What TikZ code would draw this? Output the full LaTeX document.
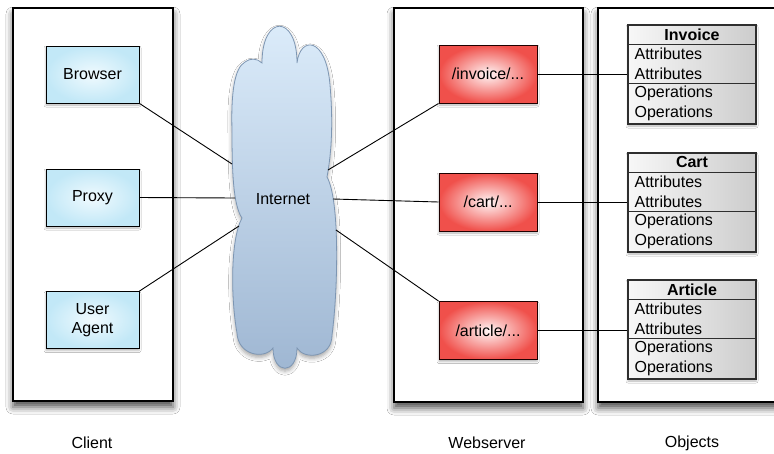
\documentclass[tikz,border=0pt]{standalone}
\usepackage{fontspec}
\setmainfont{Liberation Sans}
\usetikzlibrary{shadows.blur}
\definecolor{blueIn}{HTML}{F0FAFE}
\definecolor{blueOut}{HTML}{C2E8F7}
\definecolor{redIn}{HTML}{FFF6F6}
\definecolor{redOut}{HTML}{F0504B}
\definecolor{cloudTop}{HTML}{DDEDFB}
\definecolor{cloudBot}{HTML}{9EB6D2}
\definecolor{cloudLine}{HTML}{7D96B3}
\definecolor{umlLine}{HTML}{2E2E2E}
\tikzset{
  frame/.style={draw=black, line width=1.3pt, fill=white,
    blur shadow={shadow xshift=0pt, shadow yshift=-6pt, shadow blur radius=7pt, shadow opacity=70}},
  bluebox/.style={draw=black, line width=0.8pt, inner color=blueIn, outer color=blueOut,
    minimum width=93pt, minimum height=57pt, align=center, inner sep=0pt,
    blur shadow={shadow xshift=0pt, shadow yshift=-2pt, shadow blur radius=2pt, shadow opacity=30}},
  redbox/.style={draw=black!80!red!60!black, line width=1pt, inner color=redIn, outer color=redOut,
    minimum width=98pt, minimum height=58pt, inner sep=0pt,
    blur shadow={shadow xshift=0pt, shadow yshift=-2pt, shadow blur radius=2pt, shadow opacity=30}},
  umlbox/.style={draw=umlLine, line width=1.2pt, left color=gray!6, right color=gray!40,
    minimum width=128pt, minimum height=99pt, inner sep=0pt,
    blur shadow={shadow xshift=0pt, shadow yshift=-2pt, shadow blur radius=2pt, shadow opacity=30}},
  umlsep/.style={draw=umlLine, line width=1.2pt},
  umltext/.style={anchor=west, inner sep=0pt},
  conn/.style={draw=black, line width=0.9pt},
  cloudshape/.style={draw=cloudLine, line width=0.8pt, top color=cloudTop, bottom color=cloudBot,
    blur shadow={shadow xshift=0pt, shadow yshift=-3pt, shadow blur radius=4pt, shadow opacity=35}},
  lbl/.style={inner sep=0pt}
}
\newcommand\myumlclass[3]{%
  \node[umlbox] (#1) at (692,#3) {};
  \draw[umlsep] ([yshift=-20pt]#1.north west) -- ([yshift=-20pt]#1.north east);
  \draw[umlsep] ([yshift=-59pt]#1.north west) -- ([yshift=-59pt]#1.north east);
  \node[lbl, font=\fontsize{16}{19}\selectfont\bfseries] (#1-t) at ([yshift=-10pt]#1.north) {#2};
  \node[umltext] (#1-a1) at ([xshift=7pt,yshift=-29.5pt]#1.north west) {Attributes};
  \node[umltext] (#1-a2) at ([xshift=7pt,yshift=-49pt]#1.north west) {Attributes};
  \node[umltext] (#1-o1) at ([xshift=7pt,yshift=-69pt]#1.north west) {Operations};
  \node[umltext] (#1-o2) at ([xshift=7pt,yshift=-88.5pt]#1.north west) {Operations};
}
\begin{document}
\begin{tikzpicture}[x=1pt, y=-1pt, font=\fontsize{16}{19.5}\selectfont]
\clip (0,0) rectangle (774,453);
\fill[white] (0,0) rectangle (774,453);

% frames
\path[frame] (13,8) rectangle (173,401);
\path[frame] (394,8) rectangle (583,402);
\path[frame] (598,8) rectangle (790,402);

% cloud
\path[cloudshape] (232,130)
  .. controls (231,95) and (234,68) .. (245,62)
  .. controls (250,58) and (257,58) .. (262,63)
  .. controls (262,14) and (297,14) .. (297,63)
  .. controls (300,36) and (326,36) .. (330,85)
  .. controls (333,120) and (332,150) .. (327,177)
  .. controls (340,200) and (338,290) .. (332,335)
  .. controls (332,358) and (304,360) .. (297,348)
  .. controls (297,375) and (273,375) .. (273,348)
  .. controls (264,360) and (238,355) .. (237,333)
  .. controls (231,300) and (230,240) .. (242,218)
  .. controls (233,205) and (232,170) .. (232,130) -- cycle;
\node[lbl] (internet) at (283,199) {Internet};
\coordinate (cl1) at (232,164);
\coordinate (cl2) at (235,198);
\coordinate (cl3) at (239,226);
\coordinate (cr1) at (328,170);
\coordinate (cr2) at (333,199);
\coordinate (cr3) at (336,230);

% client nodes
\node[bluebox] (browser) at (92.5,74.5) {Browser};
\node[bluebox] (proxy) at (92.5,197.5) {Proxy};
\node[bluebox] (agent) at (92.5,320) {User\\Agent};

% webserver nodes
\node[redbox] (invoice) at (488,74) {/invoice/...};
\node[redbox] (cart) at (488,202) {/cart/...};
\node[redbox] (article) at (488,330.5) {/article/...};

% classes
\myumlclass{cinvoice}{Invoice}{74.5}
\myumlclass{ccart}{Cart}{202.5}
\myumlclass{carticle}{Article}{329.5}

% connectors
\draw[conn] (browser.south east) -- (cl1);
\draw[conn] (proxy.east) -- (cl2);
\draw[conn] (agent.north east) -- (cl3);
\draw[conn] (cr1) -- (invoice.south west);
\draw[conn] (cr2) -- (cart.west);
\draw[conn] (cr3) -- (article.north west);
\draw[conn] (invoice.east) -- (invoice.east -| cinvoice.west);
\draw[conn] (cart.east) -- (cart.east -| ccart.west);
\draw[conn] (article.east) -- (article.east -| carticle.west);

% labels
\node[lbl] (lclient) at (92,443) {Client};
\node[lbl] (lweb) at (487,443) {Webserver};
\node[lbl] (lobj) at (692,443) {Objects};
\end{tikzpicture}
\end{document}
